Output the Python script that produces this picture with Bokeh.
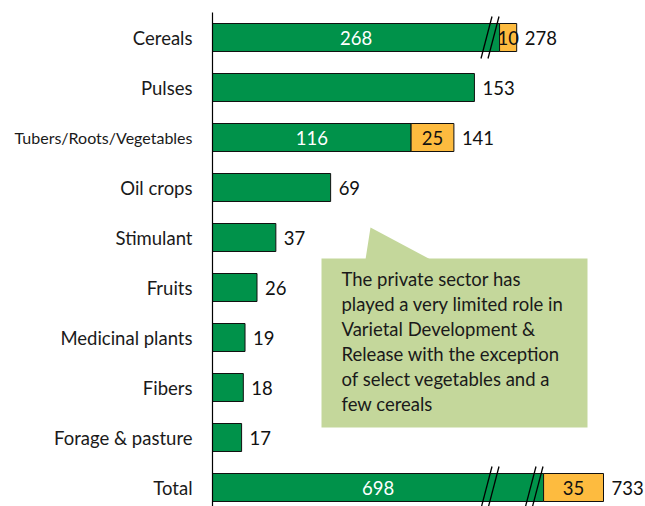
from bokeh.plotting import figure
from bokeh.models import Range1d, ColumnDataSource
from bokeh.core.properties import value
from bokeh.embed import file_html
from bokeh.resources import INLINE

categories = ["Cereals", "Pulses", "Tubers/Roots/Vegetables", "Oil crops", "Stimulant",
              "Fruits", "Medicinal plants", "Fibers", "Forage & pasture", "Total"]
public_vals = [268, 153, 116, 69, 37, 26, 19, 18, 17, 698]
private_vals = [10, 0, 25, 0, 0, 0, 0, 0, 0, 35]
note_lines = ["The private sector has", "played a very limited role in",
              "Varietal Development &", "Release with the exception",
              "of select vegetables and a", "few cereals"]

# broken axis: long green bars are compressed beyond the break point
BREAK_AT = 161.3
BREAK_K = 0.0598
def shown(v):
    return v if v <= BREAK_AT else BREAK_AT + (v - BREAK_AT) * BREAK_K

W, H = 645, 506
PXU = 1.712          # px per unit on x
AX = 212             # px of axis
ROW = 50.0           # px per row
TOP = 37             # px of first row center

def px2x(px):
    return (px - AX) / PXU
def px2y(py):
    return (py - TOP) / ROW

GREEN = "#00924A"
ORANGE = "#FDBB3F"
NOTE = "#C4D79B"
FONT = "Lato"
FS = "18.5px"

p = figure(width=W, height=H, output_backend="svg", toolbar_location=None,
           x_range=Range1d(px2x(0), px2x(W)),
           y_range=Range1d(px2y(H), px2y(0)),
           min_border=0)
p.axis.visible = False
p.grid.visible = False
p.outline_line_color = None
p.background_fill_color = "white"

idx = list(range(len(categories)))
g_disp = [shown(v) for v in public_vals]
totals = [a + b for a, b in zip(public_vals, private_vals)]
ends = [g + o for g, o in zip(g_disp, private_vals)]

BH = 28 / ROW
p.hbar(y=idx, left=0, right=g_disp, height=BH, fill_color=GREEN,
       line_color="#111111", line_width=1)
o_idx = [i for i in idx if private_vals[i] > 0]
p.hbar(y=o_idx, left=[g_disp[i] for i in o_idx],
       right=[ends[i] for i in o_idx], height=BH,
       fill_color=ORANGE, line_color="#111111", line_width=1)

# axis line
p.segment(x0=[0], y0=[px2y(12)], x1=[0], y1=[px2y(506)], line_color="black", line_width=1.2)

# break marks (pixel positions of the slashes)
breaks = [(0, 486), (0, 493), (9, 486), (9, 493), (9, 530), (9, 537)]
for r, cx in breaks:
    xc = px2x(cx)
    dx = 5.5 / PXU
    dy = 21 / ROW
    p.segment(x0=[xc - dx], y0=[r + dy], x1=[xc + dx], y1=[r - dy],
              line_color="black", line_width=1.3)

# category labels
fs = ["16px" if c.startswith("Tubers") else FS for c in categories]
lab_src = ColumnDataSource(dict(x=[px2x(192)] * len(idx), y=idx, t=categories, fs=fs))
p.text(x="x", y="y", text="t", source=lab_src, text_align="right",
       text_baseline="middle", text_font=value(FONT), text_font_size="fs",
       text_color="#1a1a1a")

# total labels outside
p.text(x=[e + 8 / PXU for e in ends], y=idx, text=[str(t) for t in totals],
       text_align="left", text_baseline="middle", text_font=value(FONT),
       text_font_size=FS, text_color="#111111")

# inside labels
p.text(x=[g_disp[i] / 2 for i in o_idx], y=o_idx,
       text=[str(public_vals[i]) for i in o_idx], text_align="center",
       text_baseline="middle", text_font=value(FONT), text_font_size=FS,
       text_color="white")
p.text(x=[g_disp[i] + private_vals[i] / 2 for i in o_idx], y=o_idx,
       text=[str(private_vals[i]) for i in o_idx], text_align="center",
       text_baseline="middle", text_font=value(FONT), text_font_size=FS,
       text_color="#111111")

# callout
p.patch(x=[px2x(365), px2x(370), px2x(430)], y=[px2y(259), px2y(227), px2y(259)],
        fill_color=NOTE, line_color=None)
p.quad(left=[px2x(321)], right=[px2x(587)], top=[px2y(258)], bottom=[px2y(427)],
       fill_color=NOTE, line_color=None)
p.text(x=[px2x(341)] * len(note_lines),
       y=[px2y(278 + 25 * i) for i in range(len(note_lines))],
       text=note_lines, text_align="left", text_baseline="middle",
       text_font=value(FONT), text_font_size=FS, text_color="#1a1a1a")

open("out.html", "w").write(file_html(p, INLINE))
